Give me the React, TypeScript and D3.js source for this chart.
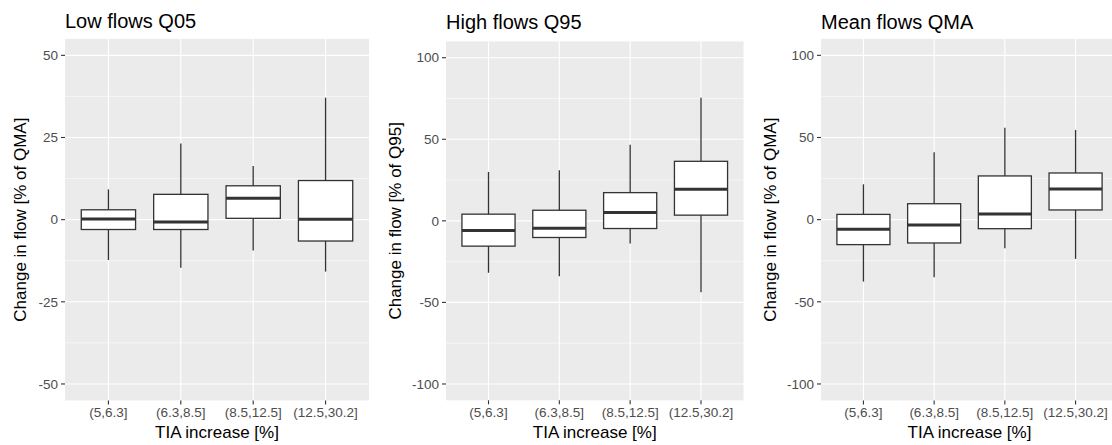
import * as d3 from 'd3';
import { useEffect, useRef } from 'react';

// TIA increase classes (x axis)
const categories = ['(5,6.3]', '(6.3,8.5]', '(8.5,12.5]', '(12.5,30.2]'];

// five-number summaries per class: [lower whisker, Q1, median, Q3, upper whisker]
const lowFlowStats = [
  [-12.3, -3.0, 0.2, 3.0, 9.2],
  [-14.6, -3.0, -0.7, 7.7, 23.2],
  [-9.4, 0.4, 6.5, 10.3, 16.3],
  [-15.8, -6.5, 0.1, 11.9, 37.1],
];
const highFlowStats = [
  [-31.8, -15.5, -5.9, 4.1, 30.0],
  [-33.9, -10.2, -4.5, 6.5, 31.0],
  [-13.9, -4.7, 5.1, 17.3, 46.7],
  [-43.7, 3.5, 19.4, 36.5, 75.5],
];
const meanFlowStats = [
  [-37.7, -15.2, -5.9, 3.2, 21.5],
  [-35.1, -14.2, -3.2, 9.7, 41.0],
  [-17.4, -5.5, 3.4, 26.6, 56.0],
  [-23.9, 5.9, 18.7, 28.4, 54.6],
];

const panelTitles = ['Low flows Q05', 'High flows Q95', 'Mean flows QMA'];
const yTitles = ['Change in flow [% of QMA]', 'Change in flow [% of Q95]', 'Change in flow [% of QMA]'];
const yLimits = [50, 100, 100];
const yTicks = [[-50, -25, 0, 25, 50], [-100, -50, 0, 50, 100], [-100, -50, 0, 50, 100]];
const yMinor = [[-37.5, -12.5, 12.5, 37.5], [-75, -25, 25, 75], [-75, -25, 25, 75]];

const FONT = "'Liberation Sans', Arial, sans-serif";

// panel frames in page pixels
const frames = [
  { left: 65, right: 369, top: 38.9, bottom: 400.4, titleY: 27.5, yTitleX: 26 },
  { left: 446, right: 743.5, top: 41.4, bottom: 400.3, titleY: 28.5, yTitleX: 400.5 },
  { left: 821, right: 1118, top: 38.9, bottom: 400.4, titleY: 28.5, yTitleX: 775.5 },
];

export default function App() {
  const ref = useRef<SVGSVGElement>(null);

  useEffect(() => {
    const svg = d3.select(ref.current);
    svg.selectAll('*').remove();
    const allStats = [lowFlowStats, highFlowStats, meanFlowStats];

    frames.forEach((f, i) => {
      const stats = allStats[i];
      const lim = yLimits[i] * 1.1;
      const y = d3.scaleLinear().domain([-lim, lim]).range([f.bottom, f.top]);
      const x = d3.scalePoint().domain(categories).range([f.left, f.right]).padding(0.6);
      const bw = x.step() * 0.75;

      const g = svg.append('g');

      g.append('rect')
        .attr('x', f.left).attr('y', f.top)
        .attr('width', f.right - f.left).attr('height', f.bottom - f.top)
        .attr('fill', '#EBEBEB');

      g.selectAll('.minor').data(yMinor[i]).enter().append('line')
        .attr('x1', f.left).attr('x2', f.right)
        .attr('y1', (d) => y(d)).attr('y2', (d) => y(d))
        .attr('stroke', '#fff').attr('stroke-width', 0.55);

      g.selectAll('.major').data(yTicks[i]).enter().append('line')
        .attr('x1', f.left).attr('x2', f.right)
        .attr('y1', (d) => y(d)).attr('y2', (d) => y(d))
        .attr('stroke', '#fff').attr('stroke-width', 1.1);

      g.selectAll('.vmajor').data(categories).enter().append('line')
        .attr('x1', (d) => x(d)!).attr('x2', (d) => x(d)!)
        .attr('y1', f.top).attr('y2', f.bottom)
        .attr('stroke', '#fff').attr('stroke-width', 1.1);

      // boxes
      const box = g.selectAll('.box').data(stats).enter().append('g');
      box.append('line')
        .attr('x1', (d, j) => x(categories[j])!).attr('x2', (d, j) => x(categories[j])!)
        .attr('y1', (d) => y(d[0])).attr('y2', (d) => y(d[4]))
        .attr('stroke', '#333333').attr('stroke-width', 1.3);
      box.append('rect')
        .attr('x', (d, j) => x(categories[j])! - bw / 2)
        .attr('y', (d) => y(d[3]))
        .attr('width', bw)
        .attr('height', (d) => y(d[1]) - y(d[3]))
        .attr('fill', '#fff').attr('stroke', '#333333').attr('stroke-width', 1.3);
      box.append('line')
        .attr('x1', (d, j) => x(categories[j])! - bw / 2)
        .attr('x2', (d, j) => x(categories[j])! + bw / 2)
        .attr('y1', (d) => y(d[2])).attr('y2', (d) => y(d[2]))
        .attr('stroke', '#333333').attr('stroke-width', 3);

      // y axis
      const yt = g.selectAll('.yt').data(yTicks[i]).enter().append('g');
      yt.append('line')
        .attr('x1', f.left - 4).attr('x2', f.left)
        .attr('y1', (d) => y(d)).attr('y2', (d) => y(d))
        .attr('stroke', '#333333').attr('stroke-width', 1.1);
      yt.append('text')
        .attr('x', f.left - 7).attr('y', (d) => y(d))
        .attr('dy', '0.35em').attr('text-anchor', 'end')
        .attr('font-family', FONT).attr('font-size', 13.5).attr('fill', '#4D4D4D')
        .text((d) => String(d));

      // x axis
      const xt = g.selectAll('.xt').data(categories).enter().append('g');
      xt.append('line')
        .attr('x1', (d) => x(d)!).attr('x2', (d) => x(d)!)
        .attr('y1', f.bottom).attr('y2', f.bottom + 4)
        .attr('stroke', '#333333').attr('stroke-width', 1.1);
      xt.append('text')
        .attr('x', (d) => x(d)!).attr('y', 417)
        .attr('text-anchor', 'middle')
        .attr('font-family', FONT).attr('font-size', 13.5).attr('fill', '#4D4D4D')
        .text((d) => d);

      g.append('text')
        .attr('x', (f.left + f.right) / 2).attr('y', 438)
        .attr('text-anchor', 'middle')
        .attr('font-family', FONT).attr('font-size', 17).attr('fill', '#000')
        .text('TIA increase [%]');

      g.append('text')
        .attr('transform', `translate(${f.yTitleX},${(f.top + f.bottom) / 2}) rotate(-90)`)
        .attr('text-anchor', 'middle')
        .attr('font-family', FONT).attr('font-size', 17).attr('fill', '#000')
        .text(yTitles[i]);

      g.append('text')
        .attr('x', f.left).attr('y', f.titleY)
        .attr('font-family', FONT).attr('font-size', 20).attr('fill', '#000')
        .text(panelTitles[i]);
    });
  }, []);

  return (
    <svg ref={ref} width={1112} height={445}
      style={{ position: 'absolute', left: 0, top: 0, background: '#fff' }} />
  );
}
